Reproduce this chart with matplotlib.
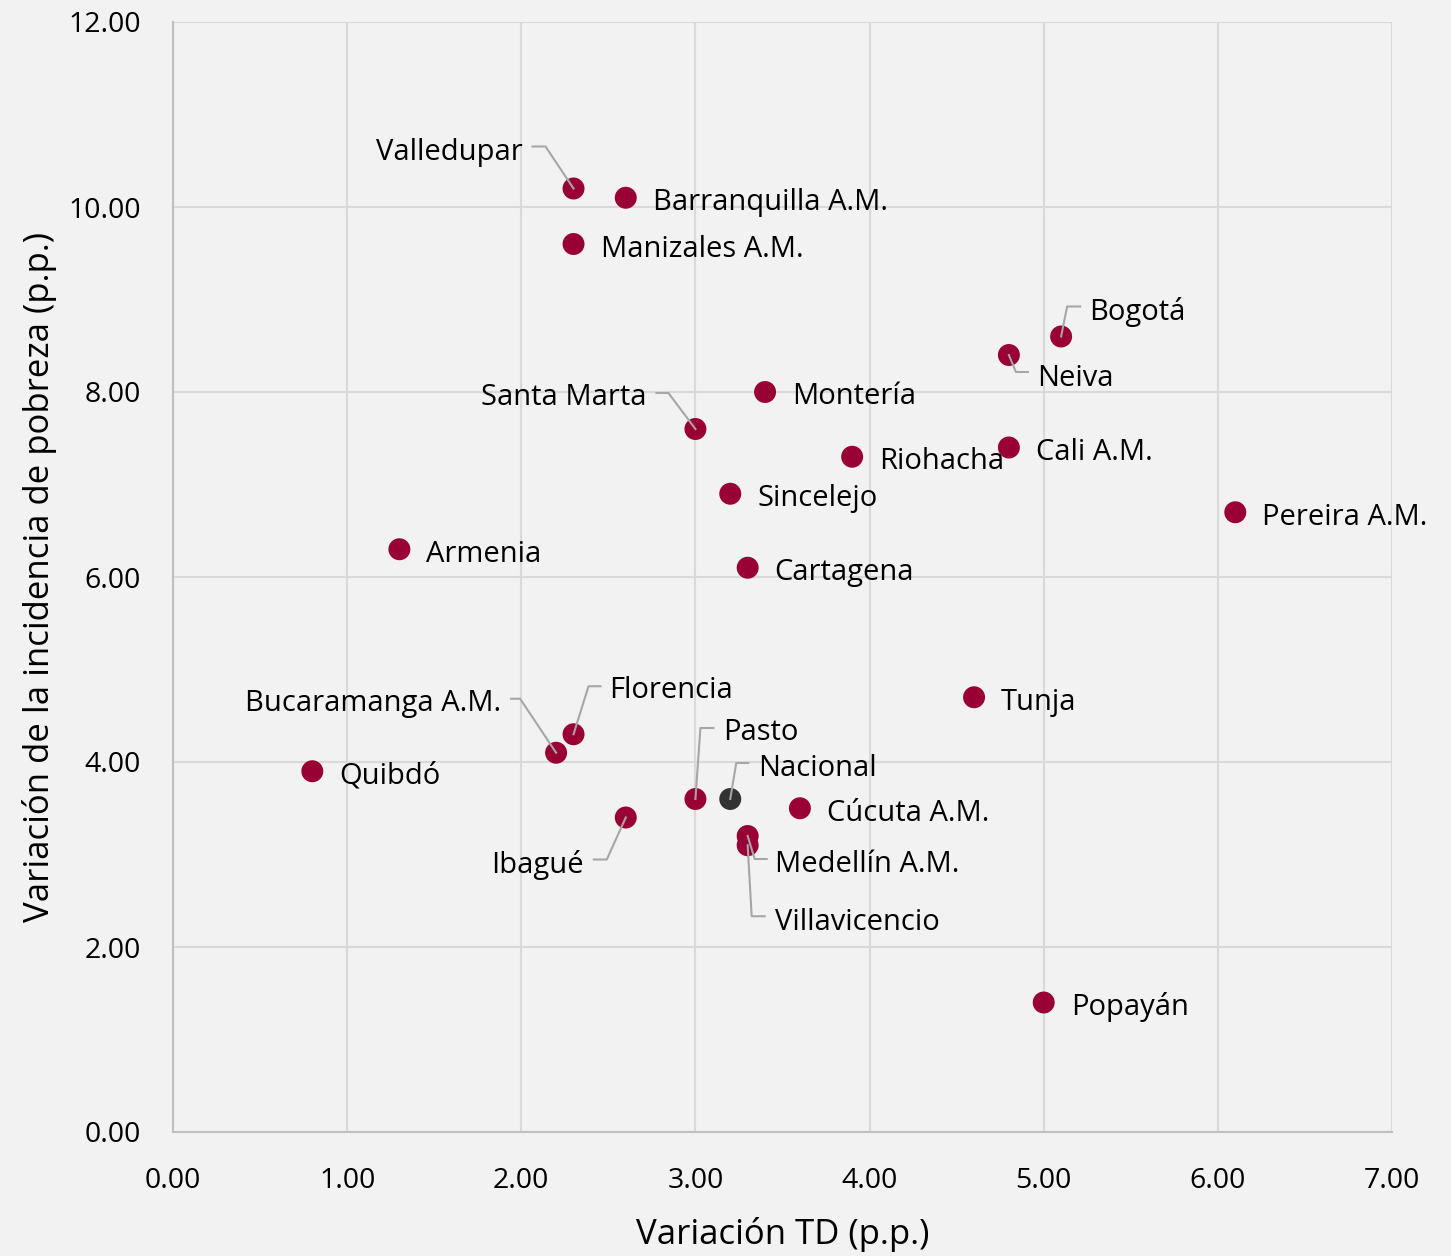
import matplotlib
matplotlib.use("Agg")
import matplotlib.pyplot as plt
from matplotlib.ticker import FormatStrFormatter

plt.rcParams['font.family'] = ['Open Sans', 'DejaVu Sans']

ciudades = ["Valledupar", "Barranquilla A.M.", "Manizales A.M.", "Bogotá", "Neiva",
            "Montería", "Santa Marta", "Riohacha", "Cali A.M.", "Sincelejo",
            "Pereira A.M.", "Armenia", "Cartagena", "Tunja", "Florencia",
            "Bucaramanga A.M.", "Quibdó", "Pasto", "Nacional", "Cúcuta A.M.",
            "Ibagué", "Medellín A.M.", "Villavicencio", "Popayán"]
variacion_td = [2.3, 2.6, 2.3, 5.1, 4.8,
                3.4, 3.0, 3.9, 4.8, 3.2,
                6.1, 1.3, 3.3, 4.6, 2.3,
                2.2, 0.8, 3.0, 3.2, 3.6,
                2.6, 3.3, 3.3, 5.0]
variacion_pobreza = [10.2, 10.1, 9.6, 8.6, 8.4,
                     8.0, 7.6, 7.3, 7.4, 6.9,
                     6.7, 6.3, 6.1, 4.7, 4.3,
                     4.1, 3.9, 3.6, 3.6, 3.5,
                     3.4, 3.2, 3.1, 1.4]
x_ticks = [0, 1, 2, 3, 4, 5, 6, 7]
y_ticks = [0, 2, 4, 6, 8, 10, 12]

# label placement in pixels relative to the marker (y downward):
# (elbow, end, text anchor, ha)
leaders = {
    "Valledupar": ((-28, -42), (-41, -42), (-51, -36), 'right'),
    "Bogotá": ((6, -30), (19, -30), (28, -24), 'left'),
    "Neiva": ((7, 17), (19, 17), (28, 23), 'left'),
    "Santa Marta": ((-27, -36), (-39, -36), (-49, -31), 'right'),
    "Florencia": ((15, -48), (27, -48), (36, -44), 'left'),
    "Bucaramanga A.M.": ((-36, -54), (-45, -54), (-55, -49), 'right'),
    "Pasto": ((5, -71), (18, -71), (28, -66), 'left'),
    "Nacional": ((6, -36), (18, -36), (28, -31), 'left'),
    "Ibagué": ((-19, 42), (-32, 42), (-42, 47), 'right'),
    "Medellín A.M.": ((7, 23), (19, 23), (27, 29), 'left'),
    "Villavicencio": ((4, 71), (17, 71), (27, 77), 'left'),
}

W, H = 1451, 1256
fig = plt.figure(figsize=(W / 100, H / 100), dpi=100)
fig.patch.set_facecolor('#F2F2F2')
ax = fig.add_axes([173 / W, 1 - 1132 / H, (1392 - 173) / W, (1132 - 22) / H])
ax.set_facecolor('#F2F2F2')
ax.set_xlim(0, 7)
ax.set_ylim(0, 12)
ax.set_xticks(x_ticks)
ax.set_yticks(y_ticks)
ax.xaxis.set_major_formatter(FormatStrFormatter('%.2f'))
ax.yaxis.set_major_formatter(FormatStrFormatter('%.2f'))
ax.grid(True, color='#D9D9D9', linewidth=1.5, zorder=0)
ax.set_axisbelow(True)
for s in ['top', 'right']:
    ax.spines[s].set_visible(False)
for s in ['left', 'bottom']:
    ax.spines[s].set_color('#BFBFBF')
    ax.spines[s].set_linewidth(1.5)
ax.tick_params(length=0, labelsize=20.5, colors='black', pad=0)
ax.tick_params(axis='x', pad=25)
ax.tick_params(axis='y', pad=23)
ax.set_xlabel('Variación TD (p.p.)', fontsize=25, labelpad=16)
ax.set_ylabel('Variación de la incidencia de pobreza (p.p.)', fontsize=25, labelpad=8)

colors = ['#333333' if c == 'Nacional' else '#990033' for c in ciudades]
ax.scatter(variacion_td, variacion_pobreza, s=250, c=colors, zorder=3, linewidths=0)

fig.canvas.draw()
inv = ax.transData.inverted()


def to_data(px, py):
    return inv.transform((px, py))


for name, xv, yv in zip(ciudades, variacion_td, variacion_pobreza):
    dx0, dy0 = ax.transData.transform((xv, yv))
    if name in leaders:
        (ex, ey), (nx, ny), (tx, ty), ha = leaders[name]
        pts = [to_data(dx0, dy0), to_data(dx0 + ex, dy0 - ey), to_data(dx0 + nx, dy0 - ny)]
        ax.plot([p[0] for p in pts], [p[1] for p in pts], color='#A6A6A6', lw=1.5, zorder=4)
    else:
        tx, ty, ha = 27, 5, 'left'
    t = to_data(dx0 + tx, dy0 - ty)
    ax.text(t[0], t[1], name, ha=ha, va='center', fontsize=21, color='black', zorder=5)

fig.savefig('out.png', dpi=100, facecolor='#F2F2F2')
